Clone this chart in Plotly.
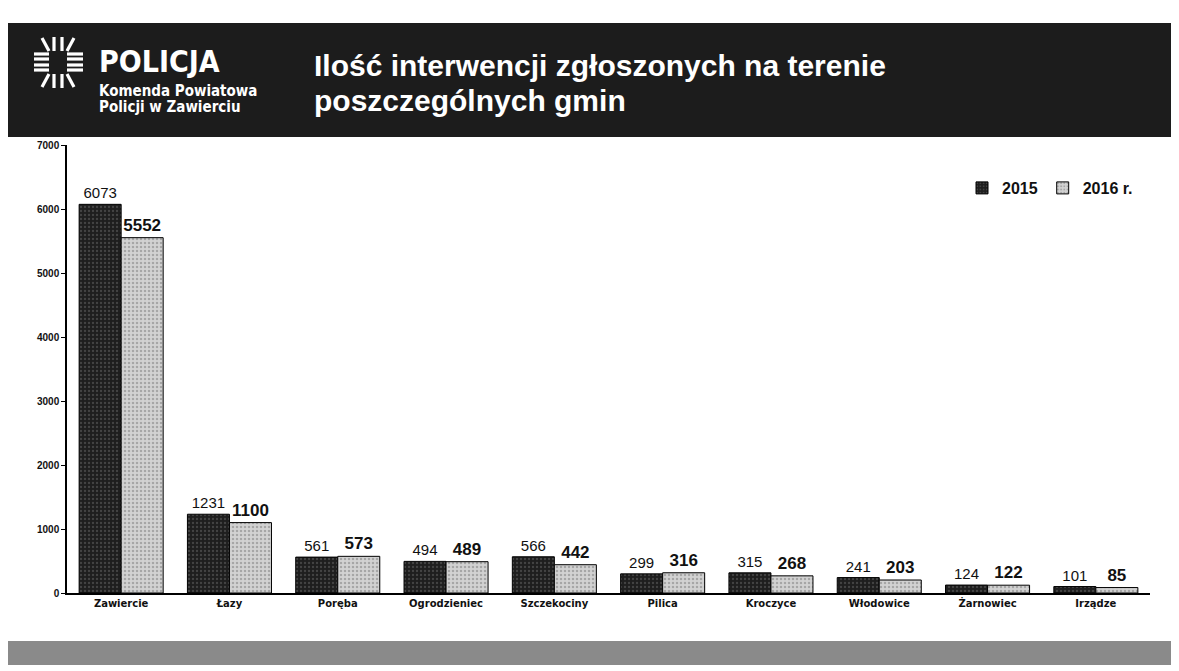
import plotly.graph_objects as go

# ---- data ----
gminy = ["Zawiercie", "Łazy", "Poręba", "Ogrodzieniec", "Szczekociny",
         "Pilica", "Kroczyce", "Włodowice", "Żarnowiec", "Irządze"]
v2015 = [6073, 1231, 561, 494, 566, 299, 315, 241, 124, 101]
v2016 = [5552, 1100, 573, 489, 442, 316, 268, 203, 122, 85]
y_ticks = [0, 1000, 2000, 3000, 4000, 5000, 6000, 7000]
series_names = ["2015", "2016 r."]

# ---- geometry helpers (page pixel -> paper); page body has an 8px margin ----
OFF = 8
W, H = 1179 - OFF, 671 - OFF
L, R, T, B = 67 - OFF, 29, 145 - OFF, 78
PW, PH = W - L - R, H - T - B


def px(x):
    return (x - OFF - L) / PW


def py(y):
    return (H - B - (y - OFF)) / PH


fig = go.Figure()
fig.add_trace(go.Bar(
    x=gminy, y=v2015, name=series_names[0],
    marker=dict(color="#2a2a2a", line=dict(color="#000000", width=1),
                pattern=dict(shape=".", fgcolor="#6a6a6a", bgcolor="#1e1e1e",
                             size=4, solidity=0.25)),
    text=v2015, textposition="outside", constraintext="none", cliponaxis=False,
    textfont=dict(family="Liberation Sans Narrow, Liberation Sans, Arial", size=15, color="#111111"),
))
fig.add_trace(go.Bar(
    x=gminy, y=v2016, name=series_names[1],
    marker=dict(color="#b8b8b8", line=dict(color="#000000", width=1),
                pattern=dict(shape=".", fgcolor="#7a7a7a", bgcolor="#d2d2d2",
                             size=4, solidity=0.3)),
    text=v2016, textposition="outside", constraintext="none", cliponaxis=False,
    textfont=dict(family="Liberation Sans, Arial", size=17, color="#111111", weight="bold"),
))

shapes = [
    # header band
    dict(type="rect", xref="paper", yref="paper", x0=px(5), x1=px(1175), y0=py(137), y1=py(23),
         fillcolor="#1c1c1c", line=dict(width=0), layer="below"),
    # footer band
    dict(type="rect", xref="paper", yref="paper", x0=px(5), x1=px(1175), y0=py(665), y1=py(641),
         fillcolor="#8a8a8a", line=dict(width=0), layer="below"),
]

# emblem (decorative rays)
rays = [
    # top
    ((42, 38), (49, 51)), ((54, 37), (54, 51)), ((62, 37), (62, 51)), ((74, 38), (67, 51)),
    # bottom
    ((42, 87), (49, 74)), ((54, 88), (54, 74)), ((62, 88), (62, 74)), ((74, 87), (67, 74)),
    # left
    ((34, 54), (49, 54)), ((34, 59), (49, 59)), ((34, 65), (49, 65)), ((34, 70), (49, 70)),
    # right
    ((67, 54), (83, 54)), ((67, 59), (83, 59)), ((67, 65), (83, 65)), ((67, 70), (83, 70)),
]
for (a, b) in rays:
    shapes.append(dict(type="line", xref="paper", yref="paper",
                       x0=px(a[0]), y0=py(a[1]), x1=px(b[0]), y1=py(b[1]),
                       line=dict(color="white", width=3.2)))

cond = "DejaVu Sans Condensed, Liberation Sans Narrow, Arial Narrow, DejaVu Sans"
annotations = [
    dict(text="POLICJA", x=px(97), y=py(61), xref="paper", yref="paper",
         xanchor="left", yanchor="middle", showarrow=False,
         font=dict(family=cond, size=30, color="white", weight="bold")),
    dict(text="Komenda Powiatowa", x=px(97), y=py(91), xref="paper", yref="paper",
         xanchor="left", yanchor="middle", showarrow=False,
         font=dict(family=cond, size=15, color="white", weight="bold")),
    dict(text="Policji w Zawierciu", x=px(97), y=py(107), xref="paper", yref="paper",
         xanchor="left", yanchor="middle", showarrow=False,
         font=dict(family=cond, size=15, color="white", weight="bold")),
    dict(text="Ilość interwencji zgłoszonych na terenie", x=px(312), y=py(66),
         xref="paper", yref="paper", xanchor="left", yanchor="middle", showarrow=False,
         font=dict(family="Liberation Sans, Arial", size=30, color="white", weight="bold")),
    dict(text="poszczególnych gmin", x=px(312), y=py(101),
         xref="paper", yref="paper", xanchor="left", yanchor="middle", showarrow=False,
         font=dict(family="Liberation Sans, Arial", size=30, color="white", weight="bold")),
]

fig.update_layout(
    width=W, height=H,
    margin=dict(l=L, r=R, t=T, b=B, pad=0),
    paper_bgcolor="white", plot_bgcolor="white",
    barmode="group", bargap=0.224, bargroupgap=0,
    shapes=shapes, annotations=annotations,
    showlegend=True,
    legend=dict(orientation="h", x=px(962), y=py(188), xanchor="left", yanchor="middle",
                font=dict(family="Liberation Sans, Arial", size=16, color="#111111", weight="bold"),
                itemwidth=30, bgcolor="rgba(0,0,0,0)", traceorder="normal"),
    xaxis=dict(showline=True, linecolor="#000000", linewidth=1.5, ticks="", showgrid=False,
               tickfont=dict(family="DejaVu Sans", size=10, color="#111111", weight="bold"),
               automargin=False),
    yaxis=dict(range=[0, 7000], tickvals=y_ticks, showline=True, linecolor="#000000",
               linewidth=1.5, ticks="outside", ticklen=4, tickcolor="#000000",
               showgrid=False, zeroline=False,
               tickfont=dict(family="Liberation Sans, Arial", size=10, color="#111111", weight="bold"),
               automargin=False),
)

fig.write_html("out.html")
